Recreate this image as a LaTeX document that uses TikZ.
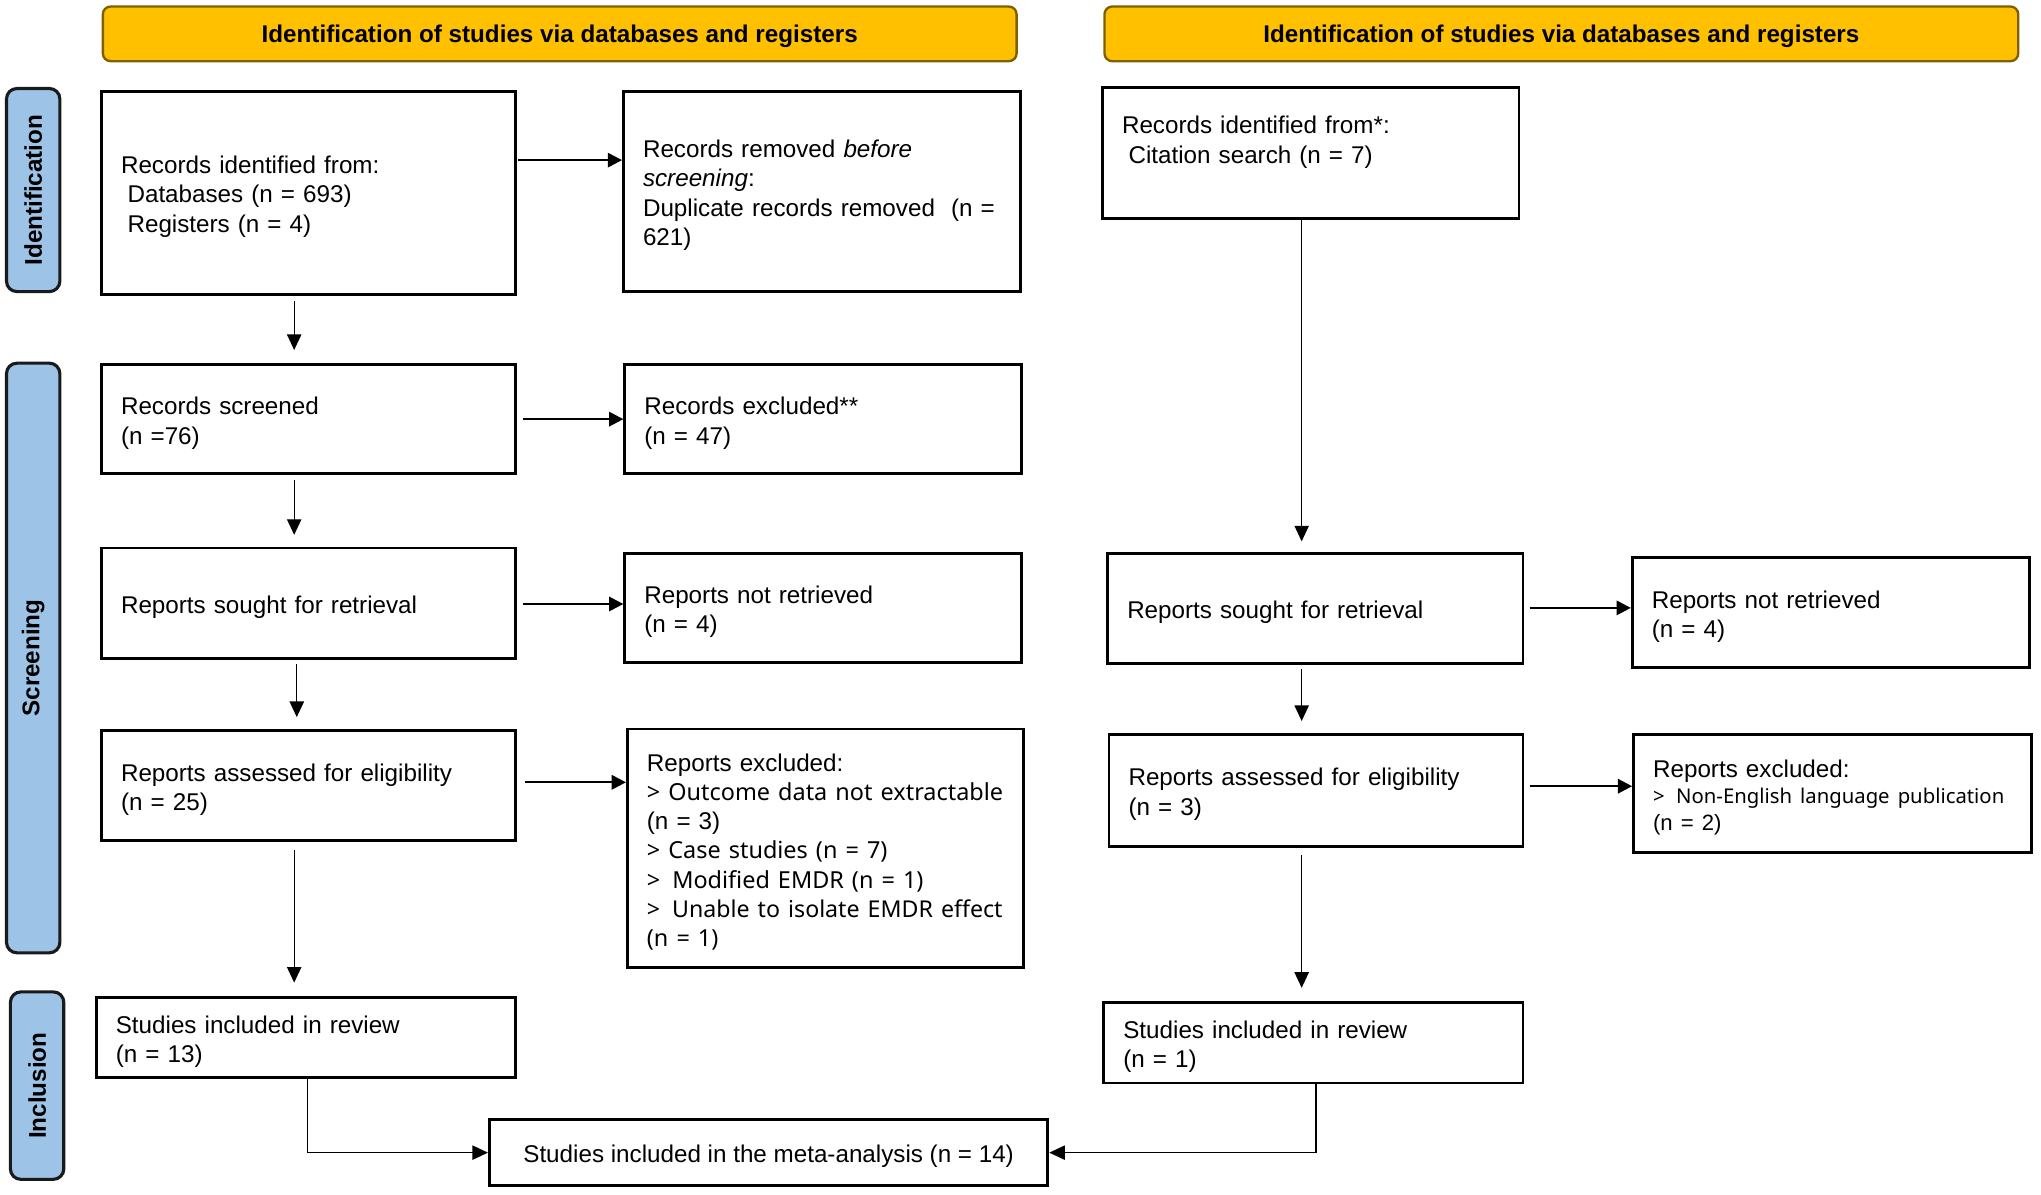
\documentclass[tikz,border=0pt]{standalone}
\usepackage{fontspec}
\setmainfont{Liberation Sans}
\newfontfamily\listf{Noto Sans}
\usetikzlibrary{arrows.meta}
\definecolor{hdrfill}{HTML}{FFC000}
\definecolor{hdrdraw}{HTML}{7F6000}
\definecolor{sidefill}{HTML}{9DC3E6}
\definecolor{sidedraw}{HTML}{1A1A1A}
\newcommand\mybody{\fontsize{9.3pt}{11.25pt}\selectfont}
\newcommand\mybold{\fontsize{9.3pt}{11.25pt}\selectfont\bfseries}
\newcommand\lst[2]{\mbox{\listf\fontsize{#1}{11.25pt}\selectfont #2}}
\begin{document}
\begin{tikzpicture}[x=0.5pt,y=-0.5pt,
  box/.style={draw, line width=1.1pt, inner xsep=7.5pt, inner ysep=0pt, align=left, font=\mybody,
    execute at begin node={\rule{0pt}{9.8pt}}},
  hdr/.style={draw=hdrdraw, fill=hdrfill, line width=0.9pt, rounded corners=3pt, minimum width=351pt, minimum height=21pt, inner sep=0pt, font=\mybold,
    execute at begin node={\rule{0pt}{8.8pt}}},
  side/.style={draw=sidedraw, fill=sidefill, line width=1.2pt, rounded corners=4pt, rotate=90, minimum height=20.5pt, inner sep=0pt, font=\mybold},
  harr/.style={line width=0.9pt, -{Triangle[length=5.5pt,width=5.5pt]}},
  varr/.style={line width=0.5pt, -{Triangle[length=6pt,width=5.5pt]}}]
\useasboundingbox (0,0) rectangle (1568,918);

% headers
\node[hdr] (H1) at (430,26) {Identification of studies via databases and registers};
\node[hdr] (H2) at (1199.5,26) {Identification of studies via databases and registers};

% side labels
\node[side, minimum width=78pt] (S1) at (25.5,146) {Identification};
\node[side, minimum width=226.5pt] (S2) at (25.5,505.5) {Screening};
\node[side, minimum width=72pt] (S3) at (28.5,834) {Inclusion};

% left column
\node[box, text width=144pt, minimum height=78pt] (B1) at (237,148)
  {Records identified from:\\\hspace*{2.5pt}Databases (n = 693)\\\hspace*{2.5pt}Registers (n = 4)};
\node[box, text width=137.5pt, minimum height=77pt] (B2) at (631.5,147)
  {Records removed \textit{before}\\\textit{screening}:\\\mbox{Duplicate records removed\ \ (n =}\\621)};
\node[box, text width=144pt, minimum height=42pt] (B3) at (237,322)
  {Records screened\\(n =76)};
\node[box, text width=137.5pt, minimum height=42pt] (B4) at (632.5,322)
  {Records excluded**\\(n = 47)};
\node[box, text width=144pt, minimum height=42.5pt] (B5) at (237,463.5)
  {Reports sought for retrieval};
\node[box, text width=137.5pt, minimum height=42pt] (B6) at (632.5,467)
  {Reports not retrieved\\(n = 4)};
\node[box, text width=144pt, minimum height=42.5pt] (B7) at (237,603.5)
  {Reports assessed for eligibility\\(n = 25)};
\node[box, text width=137pt, minimum height=91.5pt] (B8) at (634,651.5)
  {Reports excluded:\\\lst{9pt}{> Outcome data not extractable}\\(n = 3)\\
   \lst{9pt}{> Case studies (n = 7)}\\
   \lst{9pt}{>\ \,Modified EMDR (n = 1)}\\
   \lst{8.9pt}{>\ \,Unable to isolate EMDR effect}\\
   \lst{9pt}{(n = 1)}};
\node[box, text width=146pt, minimum height=31pt] (B9) at (235,797)
  {Studies included in review\\(n = 13)};
\node[box, align=center, minimum width=214.5pt, minimum height=25.5pt] (M) at (590.5,885.5)
  {Studies included in the meta-analysis (n = 14)};

% right column
\node[box, text width=145pt, minimum height=50.5pt] (R1) at (1007,117.5)
  {\rule{0pt}{11.2pt}Records identified from*:\\\hspace*{2.5pt}Citation search (n = 7)\\\strut};
\node[box, text width=144.5pt, minimum height=42.5pt] (R2) at (1010.5,467.5)
  {Reports sought for retrieval};
\node[box, text width=137.5pt, minimum height=42.5pt] (R3) at (1406.5,470.5)
  {Reports not retrieved\\(n = 4)};
\node[box, text width=144pt, minimum height=43pt] (R4) at (1011,607)
  {Reports assessed for eligibility\\(n = 3)};
\node[box, text width=138pt, minimum height=45.5pt, font=\fontsize{9.3pt}{10.25pt}\selectfont] (R5) at (1408,609.5)
  {Reports excluded:\\\mbox{\listf\fontsize{7.8pt}{10.25pt}\selectfont >\ \,Non-English language publication}\\{\fontsize{8.5pt}{10.25pt}\selectfont (n = 2)}};
\node[box, text width=146pt, minimum height=31pt] (R6) at (1009,801)
  {Studies included in review\\(n = 1)};

% helper coordinates
\coordinate (cA) at (226,0);
\coordinate (cB) at (228,0);
\coordinate (cR) at (1000,0);
\coordinate (e1) at (236,0);
\coordinate (e2) at (1011,0);
\coordinate (h1) at (0,123);
\coordinate (h2) at (0,322);
\coordinate (h3) at (0,464);
\coordinate (h4) at (0,601);
\coordinate (h5) at (0,467);
\coordinate (h6) at (0,604);

% vertical connectors left
\draw[varr, shorten <=2pt, shorten >=5pt] (B1.south -| cA) -- (B3.north -| cA);
\draw[varr, shorten <=2pt, shorten >=4.5pt] (B3.south -| cA) -- (B5.north -| cA);
\draw[varr, shorten <=1.5pt, shorten >=4.5pt] (B5.south -| cB) -- (B7.north -| cB);
\draw[varr, shorten <=3pt, shorten >=5pt] (B7.south -| cA) -- (B9.north -| cA);
% horizontal connectors left
\draw[harr, shorten <=0.5pt] (B1.east |- h1) -- (B2.west |- h1);
\draw[harr, shorten <=2.5pt] (B3.east |- h2) -- (B4.west |- h2);
\draw[harr, shorten <=2.5pt] (B5.east |- h3) -- (B6.west |- h3);
\draw[harr, shorten <=3pt] (B7.east |- h4) -- (B8.west |- h4);
% right column connectors
\draw[varr, shorten >=4pt] (R1.south -| cR) -- (R2.north -| cR);
\draw[varr, shorten <=1.5pt, shorten >=4.5pt] (R2.south -| cR) -- (R4.north -| cR);
\draw[varr, shorten <=3pt, shorten >=5pt] (R4.south -| cR) -- (R6.north -| cR);
\draw[harr, shorten <=2pt] (R2.east |- h5) -- (R3.west |- h5);
\draw[harr, shorten <=2pt] (R4.east |- h6) -- (R5.west |- h6);
% to meta-analysis
\draw[varr] (B9.south -| e1) |- (M.west);
\draw[varr] (R6.south -| e2) |- (M.east);
\end{tikzpicture}
\end{document}
